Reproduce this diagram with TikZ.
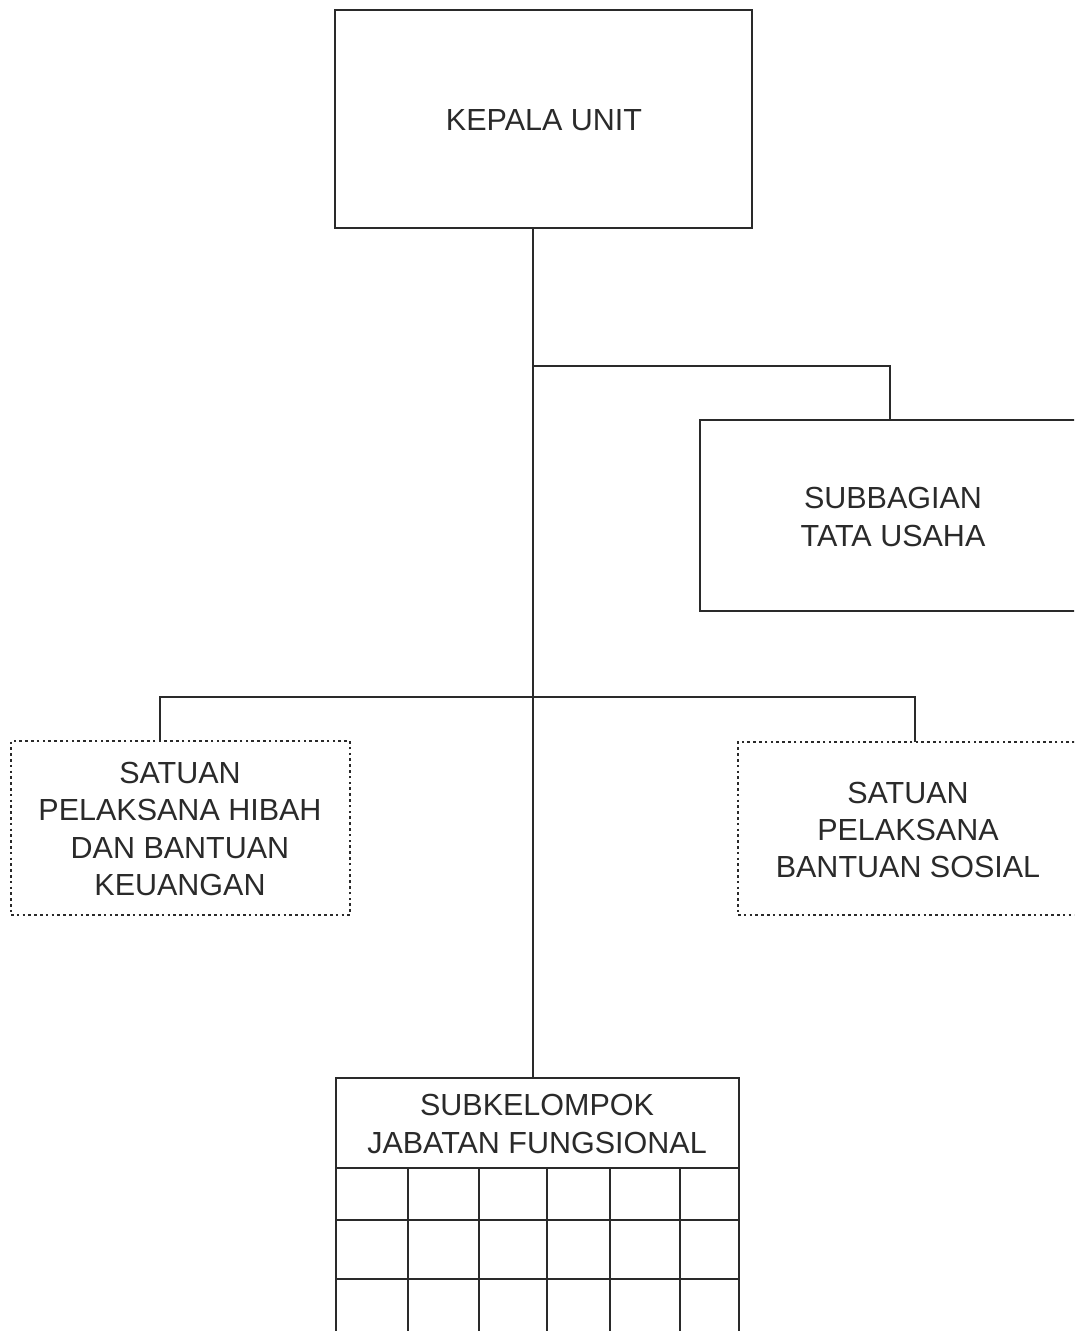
\documentclass[tikz,border=0pt]{standalone}
\usepackage{fontspec}
\setmainfont{Liberation Sans}
\definecolor{ink}{HTML}{2A2A2A}
\begin{document}
\begin{tikzpicture}[x=1pt,y=-1pt,
  every node/.style={font=\fontsize{30.5}{37.3}\selectfont, text=ink, align=center, inner sep=0pt},
  box/.style={draw=ink, line width=1.8pt, rectangle},
  dotbox/.style={draw=ink, line width=2.8pt, rectangle, dash pattern=on 2.6pt off 3.2pt},
  conn/.style={draw=ink, line width=1.8pt}]
\useasboundingbox (0,0) rectangle (1074,1331);
\clip (0,0) rectangle (1074,1331);
\fill[white] (0,0) rectangle (1074,1331);
% nodes
\node[box, minimum width=417pt, minimum height=218pt] (kepala) at (543.5,119) {};
\node (kepalat) at (544,120) {KEPALA UNIT};
\node[box, minimum width=390pt, minimum height=191pt] (sub) at (895,515.5) {};
\node (subt) at (893,517) {SUBBAGIAN\\TATA USAHA};
\node[dotbox, minimum width=339pt, minimum height=174pt] (hibah) at (180.5,828) {};
\node (hibaht) at (180,829) {SATUAN\\PELAKSANA HIBAH\\DAN BANTUAN\\KEUANGAN};
\node[dotbox, minimum width=340pt, minimum height=173pt] (sosial) at (908,828.5) {};
\node (sosialt) at (908,830) {SATUAN\\PELAKSANA\\BANTUAN SOSIAL};
\node[box, minimum width=403pt, minimum height=90pt] (fungsi) at (537.5,1123) {};
\node (fungsit) at (537,1124) {SUBKELOMPOK\\JABATAN FUNGSIONAL};
% grid
\draw[box] (336,1168) rectangle (739,1345);
\foreach \gx in {408,479,547,610,680} \draw[conn] (\gx,1168) -- (\gx,1345);
\foreach \gy in {1220,1279} \draw[conn] (336,\gy) -- (739,\gy);
% connector coordinates
\coordinate (tA) at (533,228);
\coordinate (tB) at (533,1078);
\coordinate (j1) at (533,366);
\coordinate (s1) at (890,420);
\coordinate (hl) at (160,697);
\coordinate (hr) at (915,697);
\coordinate (h1) at (160,741);
\coordinate (h2) at (915,742);
% connectors
\draw[conn] (tA) -- (tB);
\draw[conn] (j1) -| (s1);
\draw[conn] (h1) -- (hl) -- (hr) -- (h2);
\end{tikzpicture}
\end{document}
